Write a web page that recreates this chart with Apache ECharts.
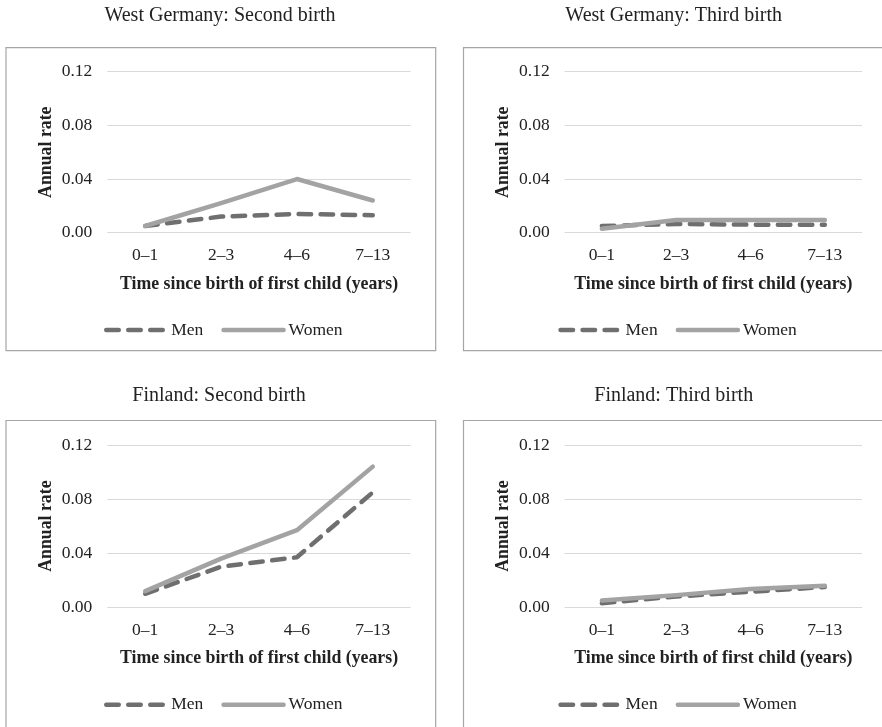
<!DOCTYPE html>
<html>
<head>
<meta charset="utf-8">
<script src="https://cdn.jsdelivr.net/npm/echarts@6/dist/echarts.min.js"></script>
<style>
html,body{margin:0;padding:0;background:#fff;}
#chart{width:882px;height:727px;}
</style>
</head>
<body>
<div id="chart"></div>
<script>
// ---- Data ----
const categories = ['0–1', '2–3', '4–6', '7–13'];
const yTicks = [0, 0.04, 0.08, 0.12];
const panelTitles = ['West Germany: Second birth', 'West Germany: Third birth', 'Finland: Second birth', 'Finland: Third birth'];
const seriesNames = ['Men', 'Women'];
const wgSecondMen   = [0.005, 0.012, 0.014, 0.013];
const wgSecondWomen = [0.005, 0.022, 0.040, 0.024];
const wgThirdMen    = [0.005, 0.0065, 0.006, 0.006];
const wgThirdWomen  = [0.003, 0.0095, 0.0095, 0.0095];
const fiSecondMen   = [0.010, 0.030, 0.037, 0.085];
const fiSecondWomen = [0.012, 0.036, 0.057, 0.104];
const fiThirdMen    = [0.003, 0.008, 0.0115, 0.015];
const fiThirdWomen  = [0.005, 0.009, 0.0135, 0.016];
const xAxisName = 'Time since birth of first child (years)';
const yAxisName = 'Annual rate';

// ---- Layout ----
const FONT = 'Liberation Serif';
const TXT = '#222';
const panels = [
  {men: wgSecondMen, women: wgSecondWomen, grid: {left: 107.3, top: 71.7, width: 303.4, height: 161}, box: {x: 6, y: 47.7, w: 429.7, h: 303}, titleX: 220, titleY: 6, legendX: 104, legendY: 321},
  {men: wgThirdMen, women: wgThirdWomen, grid: {left: 564.7, top: 71.7, width: 297.3, height: 161}, box: {x: 463.5, y: 47.7, w: 440, h: 303}, titleX: 673.7, titleY: 6, legendX: 558.3, legendY: 321},
  {men: fiSecondMen, women: fiSecondWomen, grid: {left: 107.3, top: 445, width: 303.4, height: 162.3}, box: {x: 6, y: 420.5, w: 429.7, h: 330}, titleX: 219, titleY: 386, legendX: 104, legendY: 695.7},
  {men: fiThirdMen, women: fiThirdWomen, grid: {left: 564.7, top: 445, width: 297.3, height: 162.3}, box: {x: 463.5, y: 420.5, w: 440, h: 330}, titleX: 673.7, titleY: 386, legendX: 558.3, legendY: 695.7}
];

const option = {
  backgroundColor: '#fff',
  animation: false,
  title: [], grid: [], xAxis: [], yAxis: [], series: [], legend: [],
  graphic: []
};

panels.forEach((p, i) => {
  option.graphic.push({
    type: 'rect', silent: true, z: -10,
    shape: {x: p.box.x, y: p.box.y, width: p.box.w, height: p.box.h},
    style: {fill: '#fff', stroke: '#a6a6a6', lineWidth: 1.2}
  });
  option.title.push({
    text: panelTitles[i], left: p.titleX, top: p.titleY, textAlign: 'center', padding: 0,
    textStyle: {fontFamily: FONT, fontSize: 20, fontWeight: 'normal', color: TXT}
  });
  option.grid.push({left: p.grid.left, top: p.grid.top, width: p.grid.width, height: p.grid.height, containLabel: false});
  option.xAxis.push({
    type: 'category', gridIndex: i, data: categories, boundaryGap: true,
    axisLine: {show: false}, axisTick: {show: false},
    axisLabel: {fontFamily: FONT, fontSize: 17.5, color: TXT, margin: 14},
    name: xAxisName, nameLocation: 'middle', nameGap: 42.5,
    nameTextStyle: {fontFamily: FONT, fontSize: 17.8, fontWeight: 'bold', color: TXT}
  });
  option.yAxis.push({
    type: 'value', gridIndex: i, min: yTicks[0], max: yTicks[yTicks.length - 1], interval: yTicks[1] - yTicks[0],
    axisLine: {show: false}, axisTick: {show: false},
    splitLine: {show: true, lineStyle: {color: '#d9d9d9', width: 1.2}},
    axisLabel: {fontFamily: FONT, fontSize: 17.5, color: TXT, margin: 15, formatter: v => v.toFixed(2)},
    name: yAxisName, nameLocation: 'middle', nameGap: 52,
    nameTextStyle: {fontFamily: FONT, fontSize: 17.8, fontWeight: 'bold', color: TXT}
  });
  option.series.push({
    name: seriesNames[0], type: 'line', xAxisIndex: i, yAxisIndex: i, data: p.men,
    symbol: 'none', color: '#6f6f6f', z: 2,
    lineStyle: {color: '#6f6f6f', width: 4.5, type: [12.5, 9.5], cap: 'round', join: 'round'}
  });
  option.series.push({
    name: seriesNames[1], type: 'line', xAxisIndex: i, yAxisIndex: i, data: p.women,
    symbol: 'none', color: '#a3a3a3', z: 3,
    lineStyle: {color: '#a3a3a3', width: 4.5, type: 'solid', cap: 'round', join: 'round'}
  });
  option.legend.push({
    data: seriesNames, left: p.legendX, top: p.legendY, padding: 0,
    orient: 'horizontal', itemWidth: 60, itemHeight: 14, itemGap: 18, selectedMode: false,
    itemStyle: {opacity: 0, borderWidth: 0},
    lineStyle: {width: 4.5, cap: 'round'},
    textStyle: {fontFamily: FONT, fontSize: 17.5, color: TXT}
  });
});

const chart = echarts.init(document.getElementById('chart'), null, {renderer: 'canvas'});
chart.setOption(option);
</script>
</body>
</html>
